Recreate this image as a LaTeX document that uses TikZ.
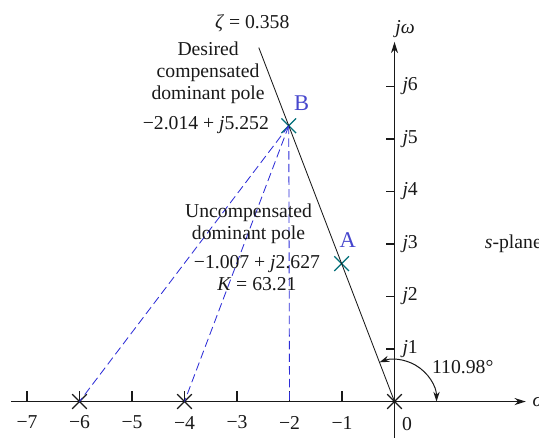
\documentclass[tikz,border=0pt]{standalone}
\usepackage{fontspec}
\setmainfont{Liberation Serif}
\usetikzlibrary{arrows.meta, positioning, shapes.misc}
\definecolor{mydark}{RGB}{25,25,25}
\definecolor{myblue}{RGB}{45,45,215}
\definecolor{myteal}{RGB}{0,110,120}
\definecolor{mylabel}{RGB}{70,70,205}
\tikzset{
  axis/.style={-{Stealth[length=8pt,width=5pt]}, line width=0.8pt, color=mydark},
  axtick/.style={line width=0.8pt, color=mydark},
  zline/.style={line width=0.6pt, color=mydark},
  dashline/.style={line width=0.6pt, color=myblue, dash pattern=on 6pt off 3pt},
  arcarrow/.style={{Stealth[length=7pt,width=4.5pt]}-{Stealth[length=7pt,width=4.5pt]},
    line width=0.7pt, color=mydark},
  pole/.style={cross out, draw=mydark, line width=0.9pt,
    minimum size=9.5pt, inner sep=0pt},
  cpole/.style={pole, draw=myteal},
  lbl/.style={font=\fontsize{14}{15.5}\selectfont, inner sep=1pt, text=mydark},
  ptlbl/.style={font=\fontsize{16}{18}\selectfont, inner sep=1pt, text=mylabel}
}
\begin{document}
\begin{tikzpicture}[x=1.3125cm, y=1.3125cm]
  \useasboundingbox (-7.514,-0.676) rectangle (2.752,7.648);

  % axes
  \coordinate (o) at (0,0);
  \coordinate (xs) at (-7.30,0);
  \coordinate (xe) at (2.50,0);
  \coordinate (ys) at (0,-0.70);
  \coordinate (ye) at (0,6.85);
  \draw[axis] (xs) -- (xe);
  \draw[axis] (ys) -- (ye);
  \node[lbl, anchor=west] (sig) at (2.60,0) {\textit{σ}};
  \node[lbl] (jw) at (0.20,7.10) {\textit{jω}};

  \foreach \x in {-7,...,-1}
    \draw[axtick] (\x,0) -- ++(0,0.21);
  \foreach \x/\t in {-7/7,-6/6,-5/5,-4/4,-3/3,-2/2,-1/1}
    \node[lbl] (xl\t) at (\x,-0.40) {−\t};
  \node[lbl] (xl0) at (0.24,-0.42) {0};

  \foreach \y in {1,...,6}
    \draw[axtick] (0,\y) -- ++(-0.17,0);
  \foreach \y in {1,...,6}
    \node[lbl, anchor=west] (yl\y) at (0.12,\y) {\textit{j}\y};

  % poles
  \node[pole] (p0) at (0,0) {};
  \node[pole] (p4) at (-4,0) {};
  \node[pole] (p6) at (-6,0) {};
  \node[cpole] (pA) at (-1.007,2.627) {};
  \node[cpole] (pB) at (-2.014,5.252) {};
  \coordinate (m2) at (-2,0);

  % damping line
  \coordinate (ztop) at (110.98:7.22);
  \draw[zline] (o) -- (ztop);
  \node[lbl] (zeta) at (-2.71,7.21) {\textit{ζ} = 0.358};

  % vectors from B
  \draw[dashline] (pB.center) -- (p6.center);
  \draw[dashline] (pB.center) -- (p4.center);
  \draw[dashline] (pB.center) -- (m2);

  \node[ptlbl] (lB) at (-1.77,5.68) {B};
  \node[ptlbl] (lA) at (-0.89,3.08) {A};
  \node[lbl, align=center] (desc) at (-3.55,6.26) {Desired\\compensated\\dominant pole};
  \node[lbl, anchor=east] (valB) at (-2.36,5.27) {−2.014 + \textit{j}5.252};
  \node[lbl, align=center] (unc) at (-2.78,3.39) {Uncompensated\\dominant pole};
  \node[lbl, align=center] (valA) at (-2.62,2.44) {−1.007 + \textit{j}2.627\\\textit{K} = 63.21};
  \node[lbl, anchor=west] (sp) at (1.69,3) {\textit{s}-plane};

  % angle
  \draw[arcarrow] ([shift={(0.80,0)}]o) arc[start angle=0, end angle=110.98, radius=0.80];
  \node[lbl] (ang) at (1.30,0.66) {110.98°};
\end{tikzpicture}
\end{document}
